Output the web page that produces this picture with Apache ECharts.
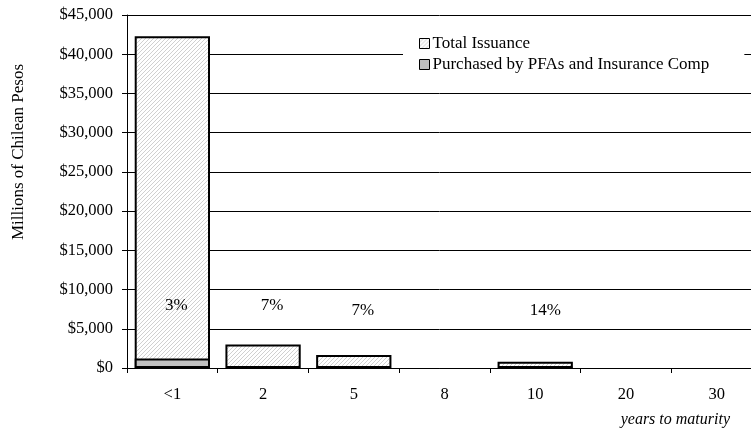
<!DOCTYPE html>
<html>
<head>
<meta charset="utf-8">
<script src="https://cdn.jsdelivr.net/npm/echarts@6/dist/echarts.min.js"></script>
<style>
html,body{margin:0;padding:0;background:#fff;}
#chart{width:751px;height:432px;}
</style>
</head>
<body>
<div id="chart"></div>
<script>
// ---- data ----
var categories = ['<1', '2', '5', '8', '10', '20', '30'];
var totalIssuance = [42300, 3000, 1650, 0, 800, 0, 0];
var purchasedByPFAs = [1200, 210, 115, 0, 110, 0, 0];
var shareLabels = ['3%', '7%', '7%', '', '14%', '', ''];

// ---- styling helpers ----
var FONT = "'Liberation Serif', 'Times New Roman', serif";
var labelLevel = [8000, 8000, 7300, 0, 7300, 0, 0]; // vertical placement of share text
var labelDx = [4, 9, 9, 0, 10, 0, 0];               // horizontal nudge of share text

function makeHatch() {
  var c = document.createElement('canvas');
  c.width = 4; c.height = 4;
  var g = c.getContext('2d');
  g.fillStyle = '#ffffff';
  g.fillRect(0, 0, 4, 4);
  g.strokeStyle = '#d0d0d0';
  g.lineWidth = 1;
  g.beginPath();
  g.moveTo(-1, 5); g.lineTo(5, -1);
  g.moveTo(-1, 1); g.lineTo(1, -1);
  g.moveTo(3, 5); g.lineTo(5, 3);
  g.stroke();
  return c;
}
var hatch = { image: makeHatch(), repeat: 'repeat' };

function barData(arr) {
  return arr.map(function (v) {
    return v === 0 ? { value: v, itemStyle: { borderWidth: 0, opacity: 0 } } : v;
  });
}

var chart = echarts.init(document.getElementById('chart'), null, { renderer: 'canvas' });

var labelData = shareLabels.map(function (s, i) {
  return s ? { value: [i, labelLevel[i]], label: { formatter: s, offset: [labelDx[i], 0] } } : null;
}).filter(function (d) { return d; });

chart.setOption({
  animation: false,
  backgroundColor: '#ffffff',
  textStyle: { fontFamily: FONT, color: '#000' },
  grid: { left: 127, top: 15, width: 635, bottom: 64, containLabel: false, outerBoundsMode: 'none' },
  legend: {
    data: ['Total Issuance', 'Purchased by PFAs and Insurance Comp'],
    orient: 'vertical',
    left: 403,
    top: 29,
    padding: [6, 35, 6, 16],
    itemWidth: 10,
    itemHeight: 10,
    itemGap: 4,
    icon: 'rect',
    backgroundColor: '#ffffff',
    textStyle: { fontFamily: FONT, fontSize: 17, color: '#000', padding: [0, 0, 0, -2] },
    itemStyle: { borderColor: '#000', borderWidth: 1 }
  },
  xAxis: {
    type: 'category',
    data: categories,
    boundaryGap: true,
    axisLine: { show: true, lineStyle: { color: '#000', width: 1 } },
    axisTick: { show: true, alignWithLabel: false, length: 5, lineStyle: { color: '#000' } },
    axisLabel: { fontFamily: FONT, fontSize: 16.5, color: '#000', margin: 18 },
    splitLine: { show: false }
  },
  yAxis: {
    type: 'value',
    min: 0,
    max: 45000,
    interval: 5000,
    axisLine: { show: true, lineStyle: { color: '#000', width: 1 } },
    axisTick: { show: true, length: 5, inside: false, lineStyle: { color: '#000' } },
    axisLabel: {
      fontFamily: FONT, fontSize: 16.5, color: '#000', margin: 14,
      formatter: function (v) { return '$' + v.toLocaleString('en-US'); }
    },
    splitLine: { show: true, lineStyle: { color: '#000', width: 1 } }
  },
  graphic: [{
    type: 'text',
    right: 21,
    top: 412,
    style: { text: 'years to maturity', font: 'italic 16px ' + FONT, fill: '#000' }
  }, {
    type: 'text',
    x: 19,
    y: 152,
    rotation: Math.PI / 2,
    style: {
      text: 'Millions of Chilean Pesos',
      font: '17px ' + FONT,
      fill: '#000',
      align: 'center',
      verticalAlign: 'middle'
    }
  }],
  series: [
    {
      name: 'Total Issuance',
      type: 'bar',
      data: barData(totalIssuance),
      barCategoryGap: '17%',
      itemStyle: { color: hatch, borderColor: '#000', borderWidth: 2 },
      z: 2
    },
    {
      name: 'Purchased by PFAs and Insurance Comp',
      type: 'bar',
      data: barData(purchasedByPFAs),
      barGap: '-100%',
      barCategoryGap: '17%',
      itemStyle: { color: '#c0c0c0', borderColor: '#000', borderWidth: 2 },
      z: 3
    },
    {
      name: 'share',
      type: 'scatter',
      data: labelData,
      symbolSize: 0,
      silent: true,
      itemStyle: { opacity: 1, color: 'rgba(0,0,0,0)' },
      label: {
        show: true,
        position: 'inside',
        fontFamily: FONT,
        fontSize: 17,
        color: '#000',
        opacity: 1
      },
      z: 5
    }
  ]
});
</script>
</body>
</html>
